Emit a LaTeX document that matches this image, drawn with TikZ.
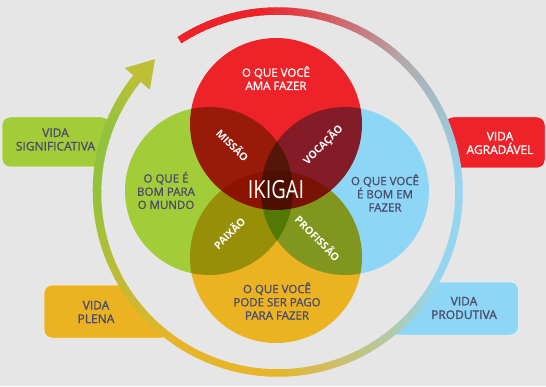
\documentclass[tikz,border=0pt]{standalone}
\usepackage{fontspec}
\setmainfont{Open Sans}
\newfontfamily\heavysans{Open Sans}[FakeBold=1.2]
\usetikzlibrary{positioning}

\definecolor{bg}{HTML}{E6E6E6}
\definecolor{ikred}{HTML}{EE2229}
\definecolor{ikgreen}{HTML}{A3CC39}
\definecolor{ikblue}{HTML}{8DD6F5}
\definecolor{ikyellow}{HTML}{EBB321}
\definecolor{ringgrey}{HTML}{B0ADAE}
\definecolor{ringblue}{HTML}{95D5F0}
\definecolor{ringyellow}{HTML}{E6B52A}
\definecolor{ringgreen}{HTML}{93C23D}
\definecolor{ringolive}{HTML}{BDC035}
\definecolor{ink}{HTML}{4B4B6B}

\begin{document}
\begin{tikzpicture}[
  x=1pt, y=1pt,
  circ/.style={circle, inner sep=0pt, minimum size=#1},
  vbox/.style={draw=white!60!bg, line width=0.5pt, rounded corners=8pt, inner sep=0pt},
  vtext/.style={align=center, text=ink, font=\heavysans\fontsize{12}{13.5}\selectfont},
  ctext/.style={align=center, text=ink, font=\heavysans\fontsize{11.5}{13.2}\selectfont},
  overlap/.style={text=white, font=\bfseries\fontsize{10.5}{12}\selectfont},
  ring/.style={line width=#1}
]
\useasboundingbox[fill=bg] (0,0) rectangle (546,386);
\coordinate (ctr) at (278,194);

% side boxes, tucked under the ring
\node[vbox, fill=ikgreen, minimum width=108, minimum height=50] (sigbox) at (56,244) {};
\node[vbox, fill=ikred, minimum width=100, minimum height=51] (agrbox) at (495,243.5) {};
\node[vbox, fill=ikyellow, minimum width=126, minimum height=53] (plebox) at (107,74.5) {};
\node[vbox, fill=ikblue, minimum width=129, minimum height=53] (probox) at (454,77.5) {};
\fill[bg] (ctr) circle[radius=180];
\node[vtext] (sig) at (55.5,246.5) {VIDA\\SIGNIFICATIVA};
\node[vtext, text=white] (agr) at (500,243) {VIDA\\AGRADÁVEL};
\node[vtext] (ple) at (96,74) {VIDA\\PLENA};
\node[vtext] (pro) at (464,78) {VIDA\\PRODUTIVA};

% outer ring, colour shifting round the circle, a bit wider towards the tip
\foreach \a/\b/\ca/\cb in {123/95/ikred/ikred, 95/45/ikred/ringgrey,
    45/5/ringgrey/ringblue, 5/-30/ringblue/ringblue, -30/-90/ringblue/ringyellow,
    -90/-125/ringyellow/ringyellow, -125/-180/ringyellow/ringgreen,
    -180/-200/ringgreen/ringgreen, -200/-219/ringgreen/ringolive}{
  \pgfmathtruncatemacro\n{(\a-\b)/2}
  \foreach \i in {1,...,\n}{
    \pgfmathsetmacro\ta{\a-(\i-1)*(\a-\b)/\n}
    \pgfmathsetmacro\tb{\a-\i*(\a-\b)/\n-0.4}
    \pgfmathtruncatemacro\p{100*(\i-0.5)/\n}
    \pgfmathsetmacro\w{\ta>-150 ? 7.5 : 7.5+2.5*(-150-\ta)/69}
    \draw[ring=\w pt, draw=\cb!\p!\ca] (ctr) ++(\ta:181) arc[start angle=\ta, end angle=\tb, radius=181];
  }
}
\fill[ringolive] ([shift={(141:197)}]ctr) -- ([shift={(132.8:181)}]ctr)
  -- ([shift={(141.4:164)}]ctr) -- cycle;

% the four circles
\foreach \pos/\sz in {{(276,262)}/172, {(209,195)}/168, {(345,195)}/168, {(276,129)}/172}
  \node[circ=\sz, fill=white] at \pos {};
\begin{scope}[blend mode=multiply]
\node[circ=172, fill=ikred] (ama) at (276,262) {};
\node[circ=168, fill=ikgreen] (mundo) at (209,195) {};
\node[circ=168, fill=ikblue] (bomem) at (345,195) {};
\node[circ=172, fill=ikyellow] (pago) at (276,129) {};
\end{scope}

\node[ctext, text=white] (amat) at (276,308) {O QUE VOCÊ\\AMA FAZER};
\node[ctext] (mundot) at (166,195.5) {O QUE É\\BOM PARA\\O MUNDO};
\node[ctext] (bomemt) at (385,193) {O QUE VOCÊ\\É BOM EM\\FAZER};
\node[ctext] (pagot) at (277,85) {O QUE VOCÊ\\PODE SER PAGO\\PARA FAZER};

\node[overlap, rotate=-45] (missao) at (233,241) {MISSÃO};
\node[overlap, rotate=45] (vocacao) at (323,241) {VOCAÇÃO};
\node[overlap, rotate=45] (paixao) at (229,153) {PAIXÃO};
\node[overlap, rotate=-45] (profissao) at (318,148) {PROFISSÃO};
\node[text=white, font=\fontsize{25}{25}\selectfont] (ikigai) at (276,196) {\scalebox{0.8}[1]{IKIGAI}};
\end{tikzpicture}
\end{document}
